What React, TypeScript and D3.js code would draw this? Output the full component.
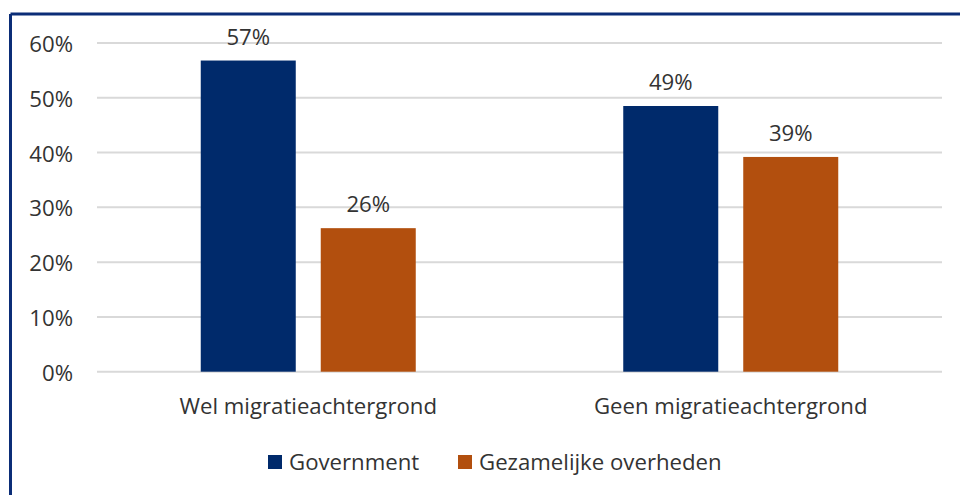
import React from "react";
import * as d3 from "d3";

const categories = ["Wel migratieachtergrond", "Geen migratieachtergrond"];
const seriesNames = ["Government", "Gezamelijke overheden"];
const governmentValues = [0.568, 0.485];
const gezamenlijkValues = [0.262, 0.392];
const dataLabels = [["57%", "49%"], ["26%", "39%"]];
const yTicks = [0, 0.1, 0.2, 0.3, 0.4, 0.5, 0.6];

const colors = ["#002a6b", "#b24f0e"];
const textColor = "#333333";
const font = "'Open Sans', 'Noto Sans', sans-serif";
const fs = 22.2;

export default function App() {
  const width = 960;
  const height = 495;
  const plotLeft = 97;
  const plotRight = 942;
  const y = d3.scaleLinear().domain([0, 0.6]).range([371.7, 43]);
  const x0 = d3.scaleBand<string>().domain(categories).range([plotLeft, plotRight]).padding(0);
  const x1 = d3
    .scaleBand<string>()
    .domain(seriesNames)
    .range([-107.5, 107.5])
    .paddingInner(0.2083)
    .paddingOuter(0);
  const values = [governmentValues, gezamenlijkValues];
  const fmt = d3.format(".0%");

  return (
    <svg
      width={width}
      height={height}
      style={{ position: "absolute", left: 0, top: 0, background: "#fff" }}
      fontFamily={font}
    >
      <rect x={0} y={0} width={width} height={height} fill="#fff" />
      {/* frame */}
      <line x1={10.5} y1={14} x2={width} y2={14} stroke="#0b2d77" strokeWidth={3} />
      <line x1={10.5} y1={14} x2={10.5} y2={height} stroke="#0b2d77" strokeWidth={3} />

      {/* gridlines */}
      {yTicks.map((t) => (
        <g key={t}>
          <line x1={plotLeft} x2={plotRight} y1={y(t)} y2={y(t)} stroke="#d9d9d9" strokeWidth={2} />
          <text
            x={73}
            y={y(t) + 9}
            textAnchor="end"
            fontSize={fs}
            fill={textColor}
          >
            {fmt(t)}
          </text>
        </g>
      ))}

      {/* bars */}
      {seriesNames.map((s, si) =>
        categories.map((c, ci) => {
          const cx = (x0(c) ?? 0) + x0.bandwidth() / 2;
          const bx = cx + (x1(s) ?? 0);
          const v = values[si][ci];
          return (
            <g key={s + c}>
              <rect
                x={bx}
                y={y(v)}
                width={x1.bandwidth()}
                height={y(0) - y(v)}
                fill={colors[si]}
              />
              <text
                x={bx + x1.bandwidth() / 2}
                y={y(v) - 16}
                textAnchor="middle"
                fontSize={fs}
                fill={textColor}
              >
                {dataLabels[si][ci]}
              </text>
            </g>
          );
        })
      )}

      {/* category labels */}
      {categories.map((c) => (
        <text
          key={c}
          x={(x0(c) ?? 0) + x0.bandwidth() / 2}
          y={414}
          textAnchor="middle"
          fontSize={fs}
          fill={textColor}
        >
          {c}
        </text>
      ))}

      {/* legend */}
      {seriesNames.map((s, i) => {
        const lx = [268, 458][i];
        return (
          <g key={s}>
            <rect x={lx} y={455} width={14} height={14} fill={colors[i]} />
            <text x={lx + 21} y={470} fontSize={fs} fill={textColor}>
              {s}
            </text>
          </g>
        );
      })}
    </svg>
  );
}
